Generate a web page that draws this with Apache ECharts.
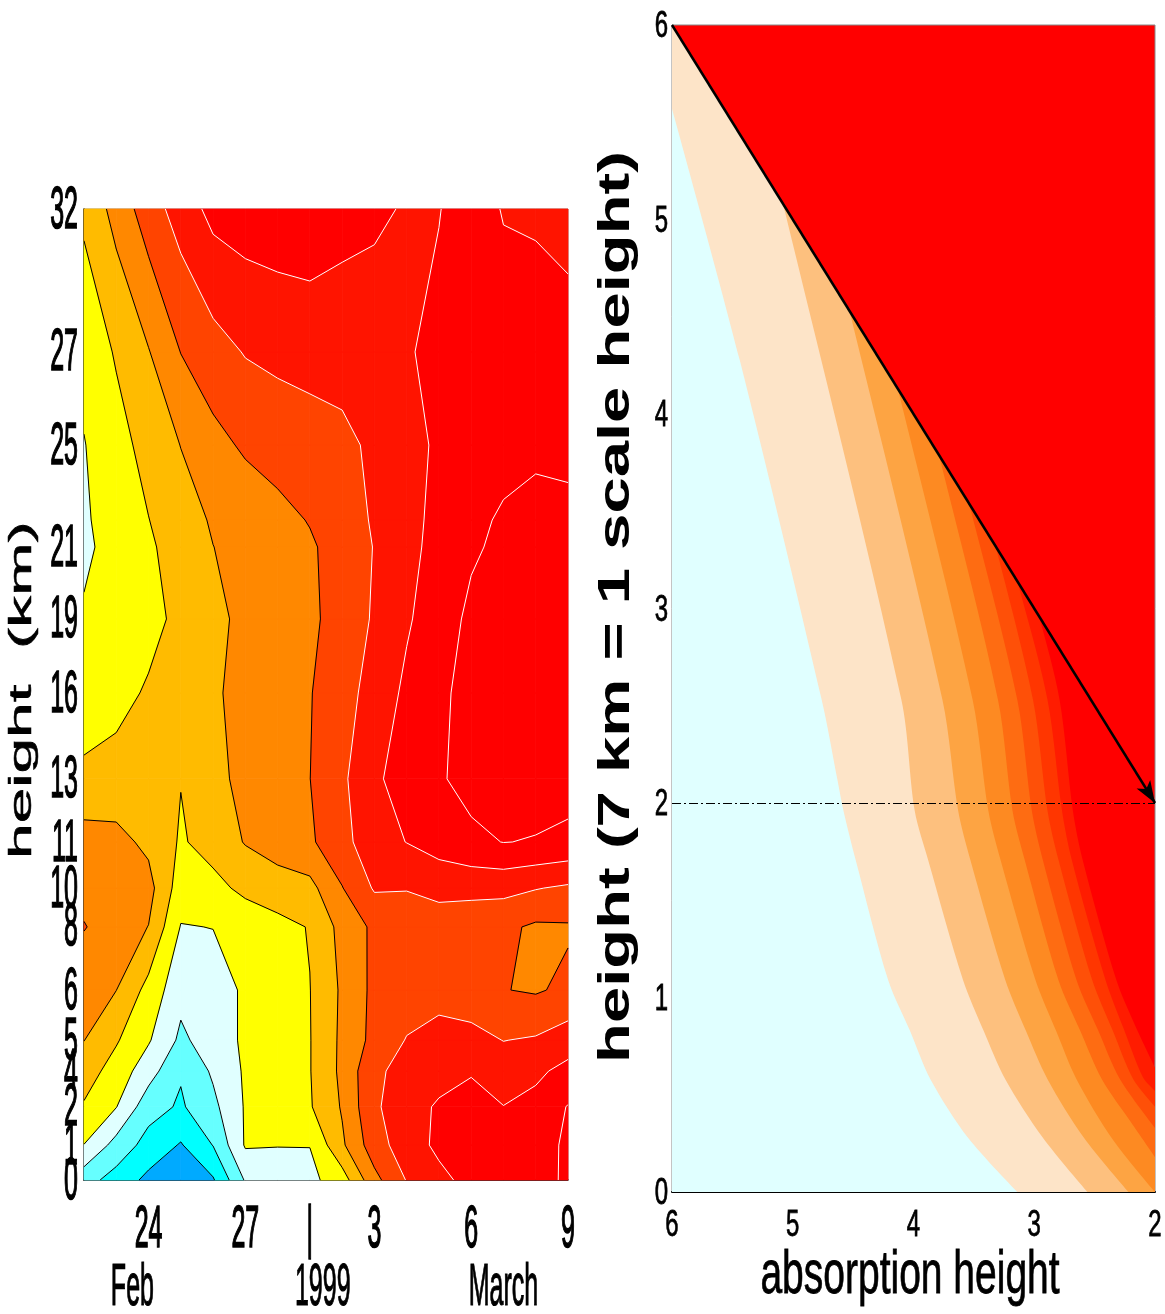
<!DOCTYPE html>
<html>
<head>
<meta charset="utf-8">
<script src="https://cdn.jsdelivr.net/npm/echarts@6.0.0/dist/echarts.min.js"></script>
<style>
  html, body { margin: 0; padding: 0; background: #fff; }
  #main { width: 1165px; height: 1314px; }
</style>
</head>
<body>
<div id="main"></div>
<script>
var FONT = '"Liberation Sans", Arial, sans-serif';

// ---- left panel: days after 22 Feb 1999, levels (km) ----
var days = [0, 1, 2, 3, 4, 5, 6, 7, 8, 9, 10, 11, 12, 13, 14, 15];
var levelPos = [0, 1.15, 2.41, 3.59, 4.61, 6.26, 8.34, 9.62, 11.14, 13.22, 16.05, 18.49, 20.86, 21.75, 24.22, 27.29, 32];
var levelLabels = ['0', '1', '2', '4', '5', '6', '8', '10', '11', '13', '16', '19', '21', '', '25', '27', '32'];
var dayTicks = [2, 5, 7, 9, 12, 15];
var dayTickLabels = ['24', '27', '|', '3', '6', '9'];
var monthPos = [1.5, 7.4, 13];
var monthLabels = ['Feb', '1999', 'March'];

// contour field: one row per level (bottom to top), one value per day
var field = [
  [2.4, 1.6, 0.75, 0.3, 0.9, 3.1, 3.5, 3.75, 4.53, 6.7, 8.05, 8.75, 9.3, 9.5, 9.7, 10.13],
  [3.98, 2.64, 1.62, 0.92, 2.03, 4.1, 4.03, 4.02, 5.84, 7.55, 8.53, 9.2, 9.4, 9.55, 9.75, 10.1],
  [4.9, 4.03, 2.4, 1.87, 2.75, 4.09, 4.5, 4.91, 6.09, 7.87, 8.5, 9.15, 9.7, 9.02, 9.3, 10.05],
  [5.47, 4.58, 3.43, 2.1, 3.15, 4.13, 4.55, 4.96, 6.22, 7.83, 8.3, 8.55, 8.85, 8.5, 8.8, 9.3],
  [6.02, 5.1, 4.1, 2.8, 3.5, 4.16, 4.57, 4.96, 6.2, 7.3, 8.05, 8.4, 8.3, 7.98, 8.1, 8.5],
  [6.3, 6.01, 4.67, 3.3, 3.5, 4.16, 4.57, 4.98, 6.15, 7.25, 7.5, 7.6, 7.45, 7.03, 6.9, 7.2],
  [7.05, 6.54, 5.98, 3.95, 4.02, 4.35, 4.7, 5.05, 6.33, 7.2, 7.4, 7.4, 7.35, 7.2, 6.85, 6.9],
  [6.7, 6.4, 6.34, 4.5, 4.7, 5.24, 5.54, 5.7, 6.96, 8.1, 8.05, 8.35, 8.3, 8.3, 8.05, 7.85],
  [6.4, 6.3, 5.78, 4.89, 5.39, 6.06, 6.46, 6.85, 7.69, 8.6, 9.02, 9.4, 9.8, 10.02, 9.95, 9.8],
  [5.26, 5.35, 5.4, 5.03, 5.75, 6.24, 6.62, 6.99, 7.82, 8.84, 9.41, 9.9, 10.3, 10.4, 10.4, 10.35],
  [4.32, 4.7, 5.11, 5.5, 5.89, 6.25, 6.6, 6.95, 7.6, 8.4, 9.2, 9.82, 10.3, 10.5, 10.5, 10.45],
  [4.1, 4.4, 4.7, 5.24, 5.79, 6.2, 6.52, 6.83, 7.35, 8.12, 8.88, 9.54, 10.2, 10.4, 10.5, 10.45],
  [3.83, 4.33, 4.86, 5.42, 5.99, 6.29, 6.59, 6.88, 7.38, 8.04, 8.72, 9.32, 9.87, 10.2, 10.4, 10.35],
  [3.88, 4.42, 4.98, 5.58, 6.1, 6.4, 6.72, 7.05, 7.56, 8.1, 8.71, 9.25, 9.72, 10.15, 10.4, 10.3],
  [3.96, 4.64, 5.34, 6.02, 6.7, 7.14, 7.39, 7.5, 7.65, 8.27, 8.78, 9.1, 9.3, 9.6, 9.75, 9.7],
  [4.3, 5.1, 5.95, 7.02, 7.6, 8.06, 8.24, 8.41, 8.58, 8.76, 8.93, 9.2, 9.3, 9.4, 9.35, 9.3],
  [5.2, 6.35, 7.52, 8.44, 9.3, 9.5, 9.6, 9.6, 9.25, 9.08, 8.96, 8.97, 9.4, 8.95, 8.9, 8.75]
];
var bandColors = ['#00aaff', '#00ffff', '#66ffff', '#e0ffff', '#ffff00', '#ffbb00',
                  '#ff8800', '#ff4400', '#ff1400', '#ff0000', '#ff0000'];
// contour lines 1..7 black, 8..10 white
var lineColors = ['#000', '#000', '#000', '#000', '#000', '#000', '#000', '#fff', '#fff', '#fff'];

// ---- right panel: band edges [absorption height, height] ----
var absTicks = [6, 5, 4, 3, 2];
var hTicks = [0, 1, 2, 3, 4, 5, 6];
var edge1 = [[6, 5.57], [5.44, 4.28], [4.76, 2.53], [4.63, 2.12], [4.58, 1.96], [4.48, 1.71], [4.21, 1.09], [4.03, 0.83], [3.86, 0.58], [3.55, 0.28], [3.14, 0]];
var edge2 = [[6, 6], [5.11, 5.11], [5.08, 5.08], [4.1, 2.53], [3.99, 1.96], [3.88, 1.71], [3.59, 1.09], [3.42, 0.83], [3.24, 0.58], [2.93, 0.28], [2.56, 0]];
var edge3 = [[6, 6], [4.56, 4.56], [4.53, 4.53], [3.76, 2.53], [3.63, 1.96], [3.53, 1.71], [3.24, 1.09], [3.07, 0.83], [2.89, 0.58], [2.59, 0.28], [2.22, 0]];
var edge4 = [[6, 6], [4.16, 4.16], [4.13, 4.13], [3.51, 2.53], [3.38, 1.96], [3.28, 1.71], [2.99, 1.09], [2.82, 0.83], [2.65, 0.58], [2.35, 0.27], [2, 0]];
var edge5 = [[6, 6], [3.82, 3.82], [3.79, 3.79], [3.3, 2.53], [3.18, 1.96], [3.08, 1.71], [2.8, 1.09], [2.62, 0.83], [2.44, 0.58], [2.2, 0.36], [2, 0.18]];
var edge6 = [[6, 6], [3.57, 3.57], [3.54, 3.54], [3.14, 2.53], [3.02, 1.96], [2.93, 1.71], [2.65, 1.09], [2.47, 0.83], [2.29, 0.58], [2, 0.33]];
var edge7 = [[6, 6], [3.35, 3.35], [3.32, 3.32], [3.01, 2.53], [2.89, 1.96], [2.8, 1.71], [2.52, 1.09], [2.35, 0.83], [2.18, 0.58], [2, 0.44]];
var edge8 = [[6, 6], [3.17, 3.17], [3.14, 3.14], [2.89, 2.53], [2.77, 1.96], [2.69, 1.71], [2.41, 1.09], [2.26, 0.84], [2.1, 0.59], [2, 0.52]];
var edge9 = [[6, 6], [2.99, 2.99], [2.96, 2.96], [2.79, 2.53], [2.68, 1.96], [2.6, 1.71], [2.32, 1.09], [2.16, 0.85], [2, 0.64]];
var edges = [edge1, edge2, edge3, edge4, edge5, edge6, edge7, edge8, edge9];
var rightColors = ['#e0ffff', '#fde4c8', '#fdc07e', '#fda443', '#fd8a22', '#fe6c12', '#fe5008', '#ff3600', '#ff1c00'];

// clip a polygon [[x, y, z]...] to z >= t (above) or z <= t
function clipPoly(pts, t, above) {
  var out = [];
  for (var i = 0; i < pts.length; i++) {
    var a = pts[i], b = pts[(i + 1) % pts.length];
    var ina = above ? a[2] >= t : a[2] <= t;
    var inb = above ? b[2] >= t : b[2] <= t;
    if (ina) out.push(a);
    if (ina !== inb) {
      var f = (t - a[2]) / (b[2] - a[2]);
      out.push([a[0] + f * (b[0] - a[0]), a[1] + f * (b[1] - a[1]), t]);
    }
  }
  return out;
}

function cellCorners(api, c, r) {
  var idx = [[c, r], [c + 1, r], [c + 1, r + 1], [c, r + 1]];
  return idx.map(function (p) {
    var xy = api.coord([days[p[0]], levelPos[p[1]]]);
    return [xy[0], xy[1], field[p[1]][p[0]]];
  });
}

var cells = [];
for (var r = 0; r < levelPos.length - 1; r++) {
  for (var c = 0; c < days.length - 1; c++) {
    cells.push([days[c], levelPos[r], c, r]);
  }
}

function renderFill(params, api) {
  var quad = cellCorners(api, api.value(2), api.value(3));
  var kids = [];
  for (var k = 0; k < bandColors.length; k++) {
    var poly = quad;
    if (k > 0) poly = clipPoly(poly, k, true);
    if (poly.length > 2 && k < bandColors.length - 1) poly = clipPoly(poly, k + 1, false);
    if (poly.length < 3) continue;
    kids.push({
      type: 'polygon',
      shape: { points: poly.map(function (p) { return [p[0], p[1]]; }) },
      style: { fill: bandColors[k], stroke: bandColors[k], lineWidth: 0.8 }
    });
  }
  return { type: 'group', children: kids };
}

function renderLines(params, api) {
  var quad = cellCorners(api, api.value(2), api.value(3));
  var kids = [];
  for (var t = 1; t <= lineColors.length; t++) {
    var pts = [];
    for (var i = 0; i < 4; i++) {
      var a = quad[i], b = quad[(i + 1) % 4];
      if ((a[2] - t) * (b[2] - t) < 0) {
        var f = (t - a[2]) / (b[2] - a[2]);
        pts.push([a[0] + f * (b[0] - a[0]), a[1] + f * (b[1] - a[1])]);
      }
    }
    for (var j = 0; j + 1 < pts.length; j += 2) {
      kids.push({
        type: 'polyline',
        shape: { points: [pts[j], pts[j + 1]] },
        style: { stroke: lineColors[t - 1], lineWidth: 1, fill: null }
      });
    }
  }
  return { type: 'group', children: kids };
}

// stretched tick labels placed through the axes
function textSeries(xi, yi, pos, texts, st) {
  return {
    type: 'custom', xAxisIndex: xi, yAxisIndex: yi, silent: true, clip: false, z: 6,
    data: pos,
    renderItem: function (params, api) {
      var p = api.coord([api.value(0), api.value(1)]);
      return {
        type: 'text', x: p[0] + st.dx, y: p[1] + st.dy, scaleY: st.sy,
        style: {
          text: texts[params.dataIndex], fontSize: st.size, fontFamily: FONT,
          fill: '#000', stroke: '#000', lineWidth: st.lw || 0,
          align: st.align, verticalAlign: 'middle'
        }
      };
    }
  };
}

var series = [
  { type: 'custom', xAxisIndex: 0, yAxisIndex: 0, silent: true, data: cells, renderItem: renderFill, z: 2 },
  { type: 'custom', xAxisIndex: 0, yAxisIndex: 0, silent: true, data: cells, renderItem: renderLines, z: 3 }
];

for (var e = edges.length - 1; e >= 0; e--) {
  series.push({
    type: 'line', xAxisIndex: 1, yAxisIndex: 1, data: edges[e], symbol: 'none',
    smooth: 0.3, silent: true, lineStyle: { width: 0 },
    areaStyle: { color: rightColors[e], opacity: 1 }, z: 2
  });
}
series[series.length - 1].markLine = {
  silent: true, animation: false, label: { show: false },
  data: [
    [{ coord: [6, 2], symbol: 'none', lineStyle: { color: '#000', width: 1, type: [9, 3, 2, 3] } },
     { coord: [2, 2], symbol: 'none' }],
    [{ coord: [6, 6], symbol: 'none', lineStyle: { color: '#000', width: 2.5, type: 'solid' } },
     { coord: [2, 2], symbol: 'arrow', symbolSize: [12, 22] }]
  ]
};

series.push(textSeries(0, 0, levelPos.map(function (v) { return [0, v]; }), levelLabels,
  { dx: -6, dy: 2, sy: 2.4, size: 25, lw: 0.7, align: 'right' }));
series.push(textSeries(0, 0, dayTicks.map(function (v) { return [v, 0]; }), dayTickLabels,
  { dx: 0, dy: 50, sy: 2.4, size: 25, lw: 0.7, align: 'center' }));
series.push(textSeries(0, 0, monthPos.map(function (v) { return [v, 0]; }), monthLabels,
  { dx: 0, dy: 108, sy: 2.4, size: 25, lw: 0.5, align: 'center' }));
series.push(textSeries(1, 1, absTicks.map(function (v) { return [v, 0]; }), absTicks.map(String),
  { dx: 0, dy: 34, sy: 1.55, size: 24, lw: 0.5, align: 'center' }));
series.push(textSeries(1, 1, hTicks.map(function (v) { return [6, v]; }), hTicks.map(String),
  { dx: -4, dy: 2, sy: 1.55, size: 24, lw: 0.5, align: 'right' }));

var hidden = { axisTick: { show: false }, axisLabel: { show: false }, splitLine: { show: false } };

var option = {
  animation: false,
  backgroundColor: '#fff',
  grid: [
    { left: 84, top: 209, width: 484, height: 971, show: true, borderColor: '#999', borderWidth: 1 },
    { left: 672, top: 25, width: 483, height: 1167, show: true, borderColor: '#888', borderWidth: 1, backgroundColor: '#ff0000' }
  ],
  xAxis: [
    Object.assign({ gridIndex: 0, type: 'value', min: 0, max: 15,
      axisLine: { show: true, onZero: false, lineStyle: { color: '#000', width: 1.5 } } }, hidden),
    Object.assign({ gridIndex: 1, type: 'value', min: 2, max: 6, interval: 1, inverse: true,
      axisLine: { show: true, onZero: false, lineStyle: { color: '#000', width: 2 } } }, hidden)
  ],
  yAxis: [
    Object.assign({ gridIndex: 0, type: 'value', min: 0, max: 32,
      axisLine: { show: true, onZero: false, lineStyle: { color: '#000', width: 1.5 } } }, hidden),
    Object.assign({ gridIndex: 1, type: 'value', min: 0, max: 6, interval: 1,
      axisLine: { show: true, onZero: false, lineStyle: { color: '#808080', width: 1 } } }, hidden)
  ],
  graphic: [
    { type: 'text', x: 22, y: 690, rotation: Math.PI / 2, scaleX: 2.0, silent: true,
      style: { text: 'height  (km)', fontSize: 32, fontFamily: FONT, fill: '#000', stroke: '#000', lineWidth: 0.5,
               align: 'center', verticalAlign: 'middle' } },
    { type: 'text', x: 617, y: 607, rotation: Math.PI / 2, scaleX: 1.45, silent: true,
      style: { text: 'height (7 km = 1 scale height)', fontSize: 45, fontWeight: 'bold', fontFamily: FONT, fill: '#000',
               align: 'center', verticalAlign: 'middle' } },
    { type: 'text', x: 910, y: 1276, scaleY: 1.58, silent: true,
      style: { text: 'absorption height', fontSize: 39, fontFamily: FONT, fill: '#000', stroke: '#000', lineWidth: 0.5,
               align: 'center', verticalAlign: 'middle' } }
  ],
  series: series
};

var chart = echarts.init(document.getElementById('main'));
chart.setOption(option);
</script>
</body>
</html>
